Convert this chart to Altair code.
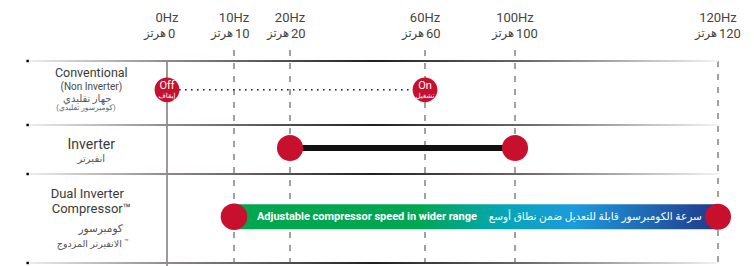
import altair as alt
import pandas as pd

# ------------------------------------------------------------------ data
FREQS = [0, 10, 20, 60, 100, 120]
HZ_EN = ["0Hz", "10Hz", "20Hz", "60Hz", "100Hz", "120Hz"]
HZ_NUM = ["0", "10", "20", "60", "100", "120"]
HZ_WORD_AR = "هرتز"

ROW_EDGES = [0, 1, 2, 3]            # row separators (row units)
ROW_CENTER = [0.45, 1.47, 2.48]     # Conventional, Inverter, Dual
LEFT_END = -20.5                    # separators start left of 0Hz (Hz-equivalent)
RIGHT_END = 120

CONV_POINTS = [0, 60]
CONV_EN = ["Off", "On"]
CONV_AR = ["إيقاف", "تشغيل"]
INV_RANGE = [20, 100]
DUAL_RANGE = [10, 120]

BAR_EN = "Adjustable compressor speed in wider range"
BAR_AR = "سرعة الكومبرسور قابلة للتعديل ضمن نطاق أوسع"

LABELS = [
    # text, x (Hz-eq), y (row units), size, color
    ("Conventional", -11.3, 0.19, 12.5, "#3a3a3a"),
    ("(Non Inverter)", -11.3, 0.41, 10, "#4a4a4a"),
    ("جهاز تقليدي", -11.9, 0.59, 10, "#555555"),
    ("(كومبرسور تقليدي)", -12.1, 0.73, 7.5, "#666666"),
    ("Inverter", -11.3, 1.41, 14, "#3a3a3a"),
    ("انفيرتر", -11.3, 1.69, 10, "#555555"),
    ("Dual Inverter", -11.9, 2.22, 13, "#3a3a3a"),
    ("Compressor™", -11.3, 2.395, 13, "#3a3a3a"),
    ("كومبرسور", -9.9, 2.62, 10.5, "#555555"),
    ("الانفيرتر المزدوج", -11.6, 2.79, 9.5, "#555555"),
]
TM_LABEL = ("™", -6.4, 2.765)

# ------------------------------------------------------------------ layout
X_RANGE_PX = [159, 226, 282, 417, 507, 710]
Y_RANGE_PX = [53, 117, 166, 255]
FONT = "Roboto, 'Noto Sans', 'DejaVu Sans', sans-serif"
RED = "#c8102e"

xs = alt.Scale(domain=FREQS, range=X_RANGE_PX, zero=False, nice=False, padding=0)
ys = alt.Scale(domain=ROW_EDGES, range=Y_RANGE_PX, zero=False, nice=False, padding=0)


def X(f="x"):
    return alt.X(f"{f}:Q", scale=xs, axis=None)


def Y(f="y"):
    return alt.Y(f"{f}:Q", scale=ys, axis=None)


# separators
sep_df = pd.DataFrame({"x": [LEFT_END] * 4, "x2": [RIGHT_END] * 4, "y": ROW_EDGES})
sep_grad = alt.Gradient(
    gradient="linear",
    stops=[
        alt.GradientStop(offset=0, color="#ececec"),
        alt.GradientStop(offset=0.2, color="#918a8a"),
        alt.GradientStop(offset=0.5, color="#231f20"),
        alt.GradientStop(offset=0.72, color="#6e6868"),
        alt.GradientStop(offset=1, color="#f2f2f2"),
    ],
    x1=0, x2=1, y1=0, y2=0,
)
separators = alt.Chart(sep_df).mark_bar(size=2, orient="horizontal", color=sep_grad).encode(
    x=X("x"), x2="x2", y=Y("y")
)
corner = alt.Chart(sep_df).mark_square(size=6, color="#000000", opacity=1, xOffset=-2).encode(
    x=X("x"), y=Y("y")
)

# vertical lines
solid_df = pd.DataFrame({"x": [0], "y": [ROW_EDGES[0]], "y2": [3.2]})
solid = alt.Chart(solid_df).mark_rule(color="#9a9a9a", strokeWidth=2).encode(
    x=X("x"), y=Y("y"), y2="y2"
)
dash_df = pd.DataFrame({"x": FREQS[1:], "y": [-0.17, -0.17, -0.17, -0.17, 0], "y2": [3.2] * 5})
dashed = alt.Chart(dash_df).mark_rule(color="#7a7a7a", strokeWidth=1.4, strokeDash=[6, 7]).encode(
    x=X("x"), y=Y("y"), y2="y2"
)

# conventional dotted line
conv_line_df = pd.DataFrame({"x": [CONV_POINTS[0]], "x2": [CONV_POINTS[1]], "y": [ROW_CENTER[0]]})
conv_line = alt.Chart(conv_line_df).mark_rule(color="#222222", strokeWidth=1.6, strokeDash=[1.6, 4.4]).encode(
    x=X("x"), x2="x2", y=Y("y")
)

# inverter thick line
inv_df = pd.DataFrame({"x": [INV_RANGE[0]], "x2": [INV_RANGE[1]], "y": [ROW_CENTER[1]]})
inv_line = alt.Chart(inv_df).mark_rule(color="#111111", strokeWidth=6).encode(
    x=X("x"), x2="x2", y=Y("y")
)

# dual gradient bar
dual_df = pd.DataFrame({"x": [DUAL_RANGE[0]], "x2": [DUAL_RANGE[1]], "y": [ROW_CENTER[2]]})
dual_grad = alt.Gradient(
    gradient="linear",
    stops=[
        alt.GradientStop(offset=0, color="#00a650"),
        alt.GradientStop(offset=0.38, color="#00a651"),
        alt.GradientStop(offset=0.55, color="#05a6b4"),
        alt.GradientStop(offset=0.7, color="#1b9cdc"),
        alt.GradientStop(offset=1, color="#22388b"),
    ],
    x1=0, x2=1, y1=0, y2=0,
)
dual_bar = alt.Chart(dual_df).mark_bar(size=25, orient="horizontal", color=dual_grad).encode(
    x=X("x"), x2="x2", y=Y("y")
)

# circles
circ_df = pd.DataFrame({
    "x": CONV_POINTS + INV_RANGE + DUAL_RANGE,
    "y": [ROW_CENTER[0]] * 2 + [ROW_CENTER[1]] * 2 + [ROW_CENTER[2]] * 2,
    "s": [616, 616, 680, 680, 707, 680],
})
circles = alt.Chart(circ_df).mark_circle(color=RED, opacity=1).encode(
    x=X("x"), y=Y("y"), size=alt.Size("s:Q", scale=None, legend=None)
)

ct_df = pd.DataFrame({"x": CONV_POINTS, "y": [ROW_CENTER[0]] * 2, "en": CONV_EN, "ar": CONV_AR})
circ_en = alt.Chart(ct_df).mark_text(color="white", font=FONT, fontSize=11, dy=-4, baseline="middle").encode(
    x=X("x"), y=Y("y"), text="en:N"
)
circ_ar = alt.Chart(ct_df).mark_text(color="white", font=FONT, fontSize=7, dy=6, baseline="middle").encode(
    x=X("x"), y=Y("y"), text="ar:N"
)

# bar texts
bt_en_df = pd.DataFrame({"x": [14.1], "y": [ROW_CENTER[2]], "t": [BAR_EN]})
bar_en = alt.Chart(bt_en_df).mark_text(color="white", font=FONT, fontSize=11, fontWeight="bold",
                                       align="left", baseline="middle").encode(
    x=X("x"), y=Y("y"), text="t:N"
)
bt_ar_df = pd.DataFrame({"x": [118.4], "y": [ROW_CENTER[2]], "t": [BAR_AR]})
bar_ar = alt.Chart(bt_ar_df).mark_text(color="white", font=FONT, fontSize=10.5,
                                       align="right", baseline="middle").encode(
    x=X("x"), y=Y("y"), text="t:N"
)

# header
hdr_df = pd.DataFrame({"x": FREQS, "en": HZ_EN, "num": HZ_NUM, "word": [HZ_WORD_AR] * 6,
                       "y_en": [-0.672] * 6, "y_ar": [-0.422] * 6})
hdr_en = alt.Chart(hdr_df).mark_text(color="#444444", font=FONT, fontSize=13, baseline="middle").encode(
    x=X("x"), y=Y("y_en"), text="en:N"
)
hdr_num = alt.Chart(hdr_df).mark_text(color="#444444", font=FONT, fontSize=13, baseline="middle",
                                      align="left", dx=1).encode(
    x=X("x"), y=Y("y_ar"), text="num:N"
)
hdr_word = alt.Chart(hdr_df).mark_text(color="#444444", font=FONT, fontSize=11.5, baseline="middle",
                                       align="right", dx=-1).encode(
    x=X("x"), y=Y("y_ar"), text="word:N"
)

# row labels
lab_df = pd.DataFrame(LABELS, columns=["t", "x", "y", "size", "color"])
labels = alt.Chart(lab_df).mark_text(font=FONT, baseline="middle", align="center").encode(
    x=X("x"), y=Y("y"), text="t:N",
    size=alt.Size("size:Q", scale=None, legend=None),
    color=alt.Color("color:N", scale=None, legend=None),
)
tm_df = pd.DataFrame([TM_LABEL], columns=["t", "x", "y"])
tm = alt.Chart(tm_df).mark_text(font=FONT, baseline="middle", align="left", fontSize=7.5,
                                color="#555555").encode(
    x=X("x"), y=Y("y"), text="t:N"
)

chart = alt.layer(
    solid, dashed, separators, corner, conv_line, inv_line, dual_bar, circles,
    circ_en, circ_ar, bar_en, bar_ar, hdr_en, hdr_num, hdr_word, labels, tm
).properties(
    width=738, height=258, padding=0, autosize=alt.AutoSizeParams(type="none")
).configure_view(stroke=None)

chart.save("out.html", embed_options={"renderer": "svg", "actions": False})
